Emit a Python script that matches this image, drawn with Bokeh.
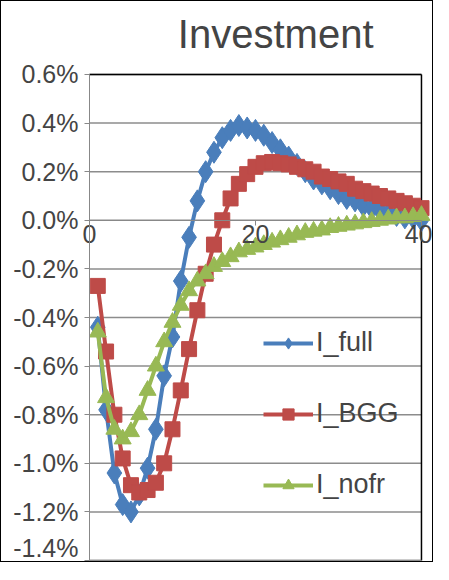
from bokeh.plotting import figure
from bokeh.models import FixedTicker, Legend, LegendItem
from bokeh.embed import file_html
from bokeh.resources import INLINE

t = list(range(1, 41))
i_full = [-0.44, -0.78, -1.04, -1.17, -1.20, -1.13, -1.02, -0.86, -0.64, -0.48,
          -0.25, -0.07, 0.08, 0.20, 0.28, 0.34, 0.37, 0.39, 0.38, 0.37,
          0.35, 0.32, 0.29, 0.26, 0.23, 0.20, 0.17, 0.15, 0.13, 0.11,
          0.09, 0.08, 0.06, 0.05, 0.04, 0.03, 0.02, 0.01, 0.01, 0.00]
i_bgg = [-0.27, -0.54, -0.80, -0.98, -1.09, -1.12, -1.11, -1.08, -1.00, -0.86,
         -0.70, -0.53, -0.37, -0.22, -0.10, 0.00, 0.09, 0.15, 0.19, 0.22,
         0.235, 0.24, 0.235, 0.23, 0.22, 0.21, 0.20, 0.18, 0.17, 0.16,
         0.15, 0.13, 0.12, 0.11, 0.10, 0.09, 0.08, 0.07, 0.06, 0.05]
i_nofr = [-0.46, -0.73, -0.86, -0.90, -0.87, -0.80, -0.70, -0.60, -0.50, -0.42,
          -0.35, -0.29, -0.25, -0.22, -0.19, -0.17, -0.15, -0.13, -0.12, -0.11,
          -0.10, -0.09, -0.08, -0.07, -0.06, -0.05, -0.045, -0.04, -0.03, -0.025,
          -0.02, -0.015, -0.01, -0.005, 0.0, 0.005, 0.01, 0.01, 0.015, 0.02]
y_ticks = [-1.4, -1.2, -1.0, -0.8, -0.6, -0.4, -0.2, 0.0, 0.2, 0.4, 0.6]
y_labels = {v: f"{v:.1f}%" for v in y_ticks}
x_ticks = [0, 20, 40]

FONT = "Liberation Sans"
x0, x1 = x_ticks[0], x_ticks[-1]
y0, y1 = y_ticks[0], y_ticks[-1]

# frame covers the whole figure so axis labels are not clipped
p = figure(width=433, height=562, x_range=(-10.6, 41.57), y_range=(-1.4123, 0.6576),
           output_backend="svg", toolbar_location=None,
           min_border_left=0, min_border_right=0, min_border_top=59,
           min_border_bottom=0, styles={"border": "1px solid black"})
p.title.text = "Investment"
p.title.align = "right"
p.title.offset = 61
p.title.text_font = FONT
p.title.text_font_style = "normal"
p.title.text_font_size = "40px"
p.outline_line_color = None
p.grid.grid_line_color = None

# gridlines and plot-area box
p.segment(x0=x0, x1=x1, y0=y_ticks, y1=y_ticks, line_color="#8c8c8c", line_width=1.5)
p.segment(x0=[x0, x1], x1=[x1, x1], y0=[y1, y0], y1=[y1, y1], line_color="black", line_width=1.5)
p.segment(x0=x0, x1=x1, y0=y0, y1=y0, line_color="#8c8c8c", line_width=1.5)

p.xaxis.fixed_location = 0
p.xaxis.ticker = FixedTicker(ticks=x_ticks)
p.xaxis.minor_tick_line_color = None
p.xaxis.major_tick_in = 0
p.xaxis.major_tick_out = 5
p.xaxis.axis_line_color = "#888888"
p.xaxis.major_tick_line_color = "#888888"
p.xaxis.major_label_text_font = FONT
p.xaxis.major_label_text_font_size = "25px"
p.xaxis.major_label_standoff = 0
p.xaxis.bounds = (x0, x1)

p.yaxis.fixed_location = 0
p.yaxis.ticker = FixedTicker(ticks=y_ticks)
p.yaxis.major_label_overrides = y_labels
p.yaxis.minor_tick_line_color = None
p.yaxis.major_tick_in = 0
p.yaxis.major_tick_out = 5
p.yaxis.axis_line_color = "#888888"
p.yaxis.major_tick_line_color = "#888888"
p.yaxis.major_label_text_font = FONT
p.yaxis.major_label_text_font_size = "25px"
p.yaxis.major_label_standoff = 6
p.yaxis.bounds = (y0, y1)

blue, red, green = "#4a7ebb", "#be4b48", "#98b954"
l1 = p.line(t, i_full, line_color=blue, line_width=4)
m1 = p.scatter(t, i_full, marker="diamond", size=22, color=blue)
l2 = p.line(t, i_bgg, line_color=red, line_width=4)
m2 = p.scatter(t, i_bgg, marker="square", size=15, color=red)
l3 = p.line(t, i_nofr, line_color=green, line_width=4)
m3 = p.scatter(t, i_nofr, marker="triangle", size=17, color=green)

legend = Legend(items=[LegendItem(label="I_full", renderers=[l1, m1]),
                       LegendItem(label="I_BGG", renderers=[l2, m2]),
                       LegendItem(label="I_nofr", renderers=[l3, m3])],
                location=(262, 63), background_fill_alpha=0,
                border_line_color=None, spacing=40, glyph_width=50,
                glyph_height=28, label_text_font=FONT,
                label_text_font_size="27px", label_standoff=3,
                padding=0, margin=0)
p.add_layout(legend, "center")

open("out.html", "w").write(file_html(p, INLINE))
